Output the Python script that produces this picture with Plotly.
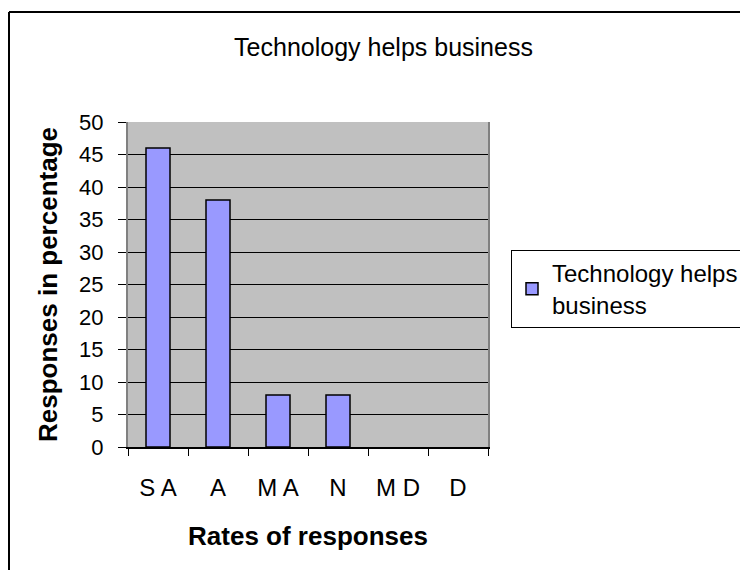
import plotly.graph_objects as go

# Survey answers: share of responses per rating
rates = ["S A", "A", "M A", "N", "M D", "D"]
responses = [46, 38, 8, 8, 0, 0]
series_name = "Technology helps<br>business"

# the page puts an 8px body margin round the figure, so the layout is shifted by it
off = 8
left, top, pw, ph = 128 - off, 122 - off, 360, 325

fig = go.Figure()
fig.add_trace(
    go.Bar(
        x=rates,
        y=responses,
        name=series_name,
        marker_color="#9999FF",
        marker_line_color="black",
        # empty categories draw nothing, like the original
        marker_line_width=[1.5 if v > 0 else 0 for v in responses],
        showlegend=True,
    )
)

# Outer chart frame (only the top and left edges are inside the picture)
fx = (1 - left) / pw
fy = (ph + top - 4) / ph
fig.add_shape(type="line", xref="paper", yref="paper", x0=fx, x1=fx, y0=-1, y1=fy,
              line=dict(color="black", width=2))
fig.add_shape(type="line", xref="paper", yref="paper", x0=fx, x1=3, y0=fy, y1=fy,
              line=dict(color="black", width=2))

fig.update_layout(
    width=748,
    height=570,
    margin=dict(l=left, r=748 - left - pw, t=top, b=570 - top - ph, autoexpand=False),
    paper_bgcolor="white",
    plot_bgcolor="#C0C0C0",
    font=dict(family="Liberation Sans, Arial, sans-serif", color="black", size=20),
    title=dict(text="Technology helps business", xref="container", x=375.5 / 748,
               xanchor="center", yref="container", y=1 - 39 / 570, yanchor="middle",
               font=dict(size=25)),
    bargap=0.6,
    legend=dict(x=(511 - 128) / pw, y=(447 - 250) / ph, xanchor="left", yanchor="top",
                bordercolor="black", borderwidth=1, bgcolor="white",
                font=dict(size=24), entrywidth=250),
)

fig.update_xaxes(
    ticks="outside", tickson="boundaries", ticklen=7, tickcolor="black",
    showline=True, linecolor="black", linewidth=1.5,
    tickfont=dict(size=24), ticklabelstandoff=18,
    title=dict(text="<b>Rates of responses</b>", font=dict(size=26), standoff=27),
)
fig.update_yaxes(
    range=[0, 50], dtick=5, ticks="outside", ticklen=8, tickcolor="black",
    showgrid=True, gridcolor="black", gridwidth=1,
    showline=True, linecolor="#808080", linewidth=2, mirror=True,
    zeroline=False, tickfont=dict(size=22), ticklabelstandoff=10,
    title=dict(text="<b>Responses in percentage</b>", font=dict(size=26), standoff=14),
)

fig.write_html("out.html")
